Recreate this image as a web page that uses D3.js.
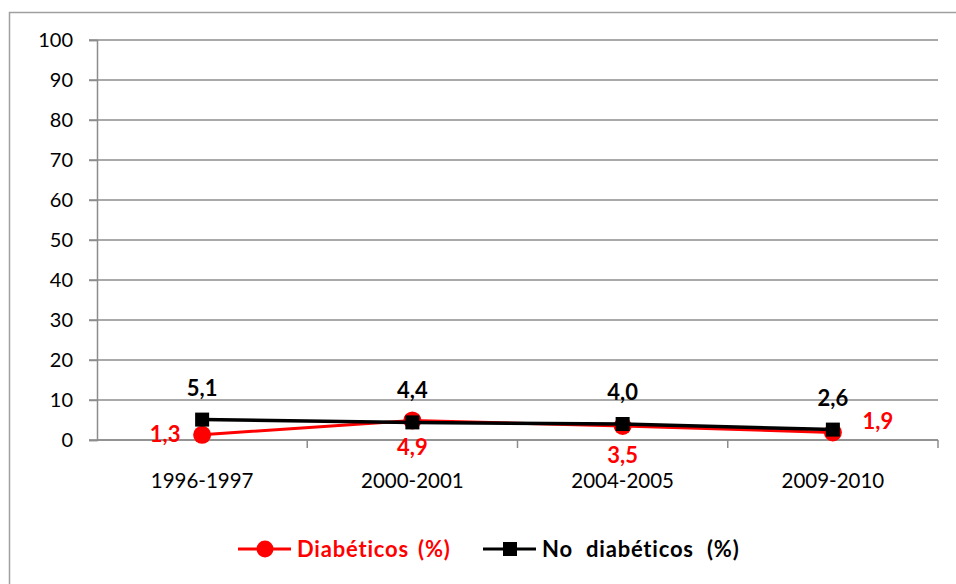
<!DOCTYPE html>
<html>
<head>
<meta charset="utf-8">
<script src="https://cdn.jsdelivr.net/npm/d3@7"></script>
<style>
  body { margin: 0; background: #fff; }
  text { font-family: Lato, "Open Sans", sans-serif; }
</style>
</head>
<body>
<div id="chart"></div>
<script>
// chart data
var periods = ["1996-1997", "2000-2001", "2004-2005", "2009-2010"];
var diabeticos = [1.3, 4.9, 3.5, 1.9];
var noDiabeticos = [5.1, 4.4, 4.0, 2.6];
var diabLabels = ["1,3", "4,9", "3,5", "1,9"];
var noDiabLabels = ["5,1", "4,4", "4,0", "2,6"];
var yTicks = [0, 10, 20, 30, 40, 50, 60, 70, 80, 90, 100];

var width = 956;
var height = 584;
var margin = { top: 40, left: 97, right: 18, bottom: 144 };

var svg = d3.select("#chart")
    .append("svg")
    .attr("width", width)
    .attr("height", height);

// outer frame
svg.append("rect")
    .attr("x", 9.5).attr("y", 12.5)
    .attr("width", 960).attr("height", 600)
    .attr("fill", "none")
    .attr("stroke", "#a0a0a0")
    .attr("stroke-width", 1.5);

var x = d3.scaleBand()
    .domain(periods)
    .range([margin.left, width - margin.right]);

var y = d3.scaleLinear()
    .domain([0, 100])
    .range([height - margin.bottom, margin.top]);

// gridlines
svg.append("g")
    .selectAll("line")
    .data(yTicks)
    .enter()
    .append("line")
    .attr("x1", margin.left - 8)
    .attr("x2", width - margin.right)
    .attr("y1", function(d) { return y(d); })
    .attr("y2", function(d) { return y(d); })
    .attr("stroke", "#8c8c8c")
    .attr("stroke-width", 1.5);

// y axis
var yAxis = svg.append("g")
    .attr("transform", "translate(" + margin.left + ",0)")
    .call(d3.axisLeft(y).tickValues(yTicks).tickSize(8).tickPadding(16));
yAxis.selectAll("text").attr("font-size", "20px").attr("fill", "#000")
    .style("font-family", "Lato, sans-serif");
yAxis.selectAll("line, path").attr("stroke", "#8c8c8c").attr("stroke-width", 1.5);

// x axis with ticks at category boundaries
var xAxis = svg.append("g")
    .attr("transform", "translate(0," + y(0) + ")");
xAxis.append("line")
    .attr("x1", margin.left).attr("x2", width - margin.right)
    .attr("stroke", "#8c8c8c").attr("stroke-width", 1.5);
xAxis.selectAll(".tk")
    .data(periods.slice(1).concat(["end"]))
    .enter()
    .append("line")
    .attr("class", "tk")
    .attr("x1", function(d, i) { return margin.left + x.step() * (i + 1); })
    .attr("x2", function(d, i) { return margin.left + x.step() * (i + 1); })
    .attr("y1", 0).attr("y2", 8)
    .attr("stroke", "#8c8c8c").attr("stroke-width", 1.5);
xAxis.selectAll(".cat")
    .data(periods)
    .enter()
    .append("text")
    .attr("class", "cat")
    .attr("x", function(d) { return x(d) + x.bandwidth() / 2; })
    .attr("y", 48)
    .attr("text-anchor", "middle")
    .attr("font-size", "20.5px")
    .text(function(d) { return d; });

var cx = function(d, i) { return x(periods[i]) + x.bandwidth() / 2; };
var line = d3.line()
    .x(function(d, i) { return cx(d, i); })
    .y(function(d) { return y(d); });

// Diabéticos series
svg.append("path")
    .datum(diabeticos)
    .attr("d", line)
    .attr("fill", "none")
    .attr("stroke", "#ff0000")
    .attr("stroke-width", 3);
svg.selectAll(".dot")
    .data(diabeticos)
    .enter()
    .append("circle")
    .attr("class", "dot")
    .attr("cx", cx)
    .attr("cy", function(d) { return y(d); })
    .attr("r", 9)
    .attr("fill", "#ff0000");

// No diabéticos series
svg.append("path")
    .datum(noDiabeticos)
    .attr("d", line)
    .attr("fill", "none")
    .attr("stroke", "#000")
    .attr("stroke-width", 3.5);
svg.selectAll(".sq")
    .data(noDiabeticos)
    .enter()
    .append("rect")
    .attr("class", "sq")
    .attr("x", function(d, i) { return cx(d, i) - 7; })
    .attr("y", function(d) { return y(d) - 7; })
    .attr("width", 14)
    .attr("height", 14)
    .attr("fill", "#000");

// data labels
var redOffsets = [[-37, 7], [0, 35], [0, 37], [45, -3]];
svg.selectAll(".rlab")
    .data(diabeticos)
    .enter()
    .append("text")
    .attr("class", "rlab")
    .attr("x", function(d, i) { return cx(d, i) + redOffsets[i][0]; })
    .attr("y", function(d, i) { return y(d) + redOffsets[i][1]; })
    .attr("text-anchor", "middle")
    .attr("font-size", "22px")
    .attr("font-weight", "bold")
    .attr("fill", "#ff0000")
    .text(function(d, i) { return diabLabels[i]; });

svg.selectAll(".blab")
    .data(noDiabeticos)
    .enter()
    .append("text")
    .attr("class", "blab")
    .attr("x", cx)
    .attr("y", function(d) { return y(d) - 24; })
    .attr("text-anchor", "middle")
    .attr("font-size", "22px")
    .attr("font-weight", "bold")
    .attr("fill", "#000")
    .text(function(d, i) { return noDiabLabels[i]; });

// legend
var legendItems = [
    { name: "Diabéticos (%)", color: "#ff0000", shape: "circle", x: 238, ws: 3 },
    { name: "No diabéticos (%)", color: "#000", shape: "square", x: 483, ws: 7 }
];
var legend = svg.selectAll(".legend")
    .data(legendItems)
    .enter()
    .append("g")
    .attr("transform", function(d) { return "translate(" + d.x + ",549)"; });
legend.append("line")
    .attr("x1", 0).attr("x2", 53)
    .attr("stroke", function(d) { return d.color; })
    .attr("stroke-width", 3);
legend.filter(function(d) { return d.shape === "circle"; })
    .append("circle")
    .attr("cx", 27).attr("r", 8.5)
    .attr("fill", function(d) { return d.color; });
legend.filter(function(d) { return d.shape === "square"; })
    .append("rect")
    .attr("x", 20).attr("y", -7).attr("width", 14).attr("height", 14)
    .attr("fill", function(d) { return d.color; });
legend.append("text")
    .attr("x", 59)
    .attr("y", 8)
    .attr("font-size", "22px")
    .attr("font-weight", "bold")
    .attr("letter-spacing", "0.8px")
    .attr("word-spacing", function(d) { return d.ws + "px"; })
    .attr("fill", function(d) { return d.color; })
    .text(function(d) { return d.name; });
</script>
</body>
</html>
